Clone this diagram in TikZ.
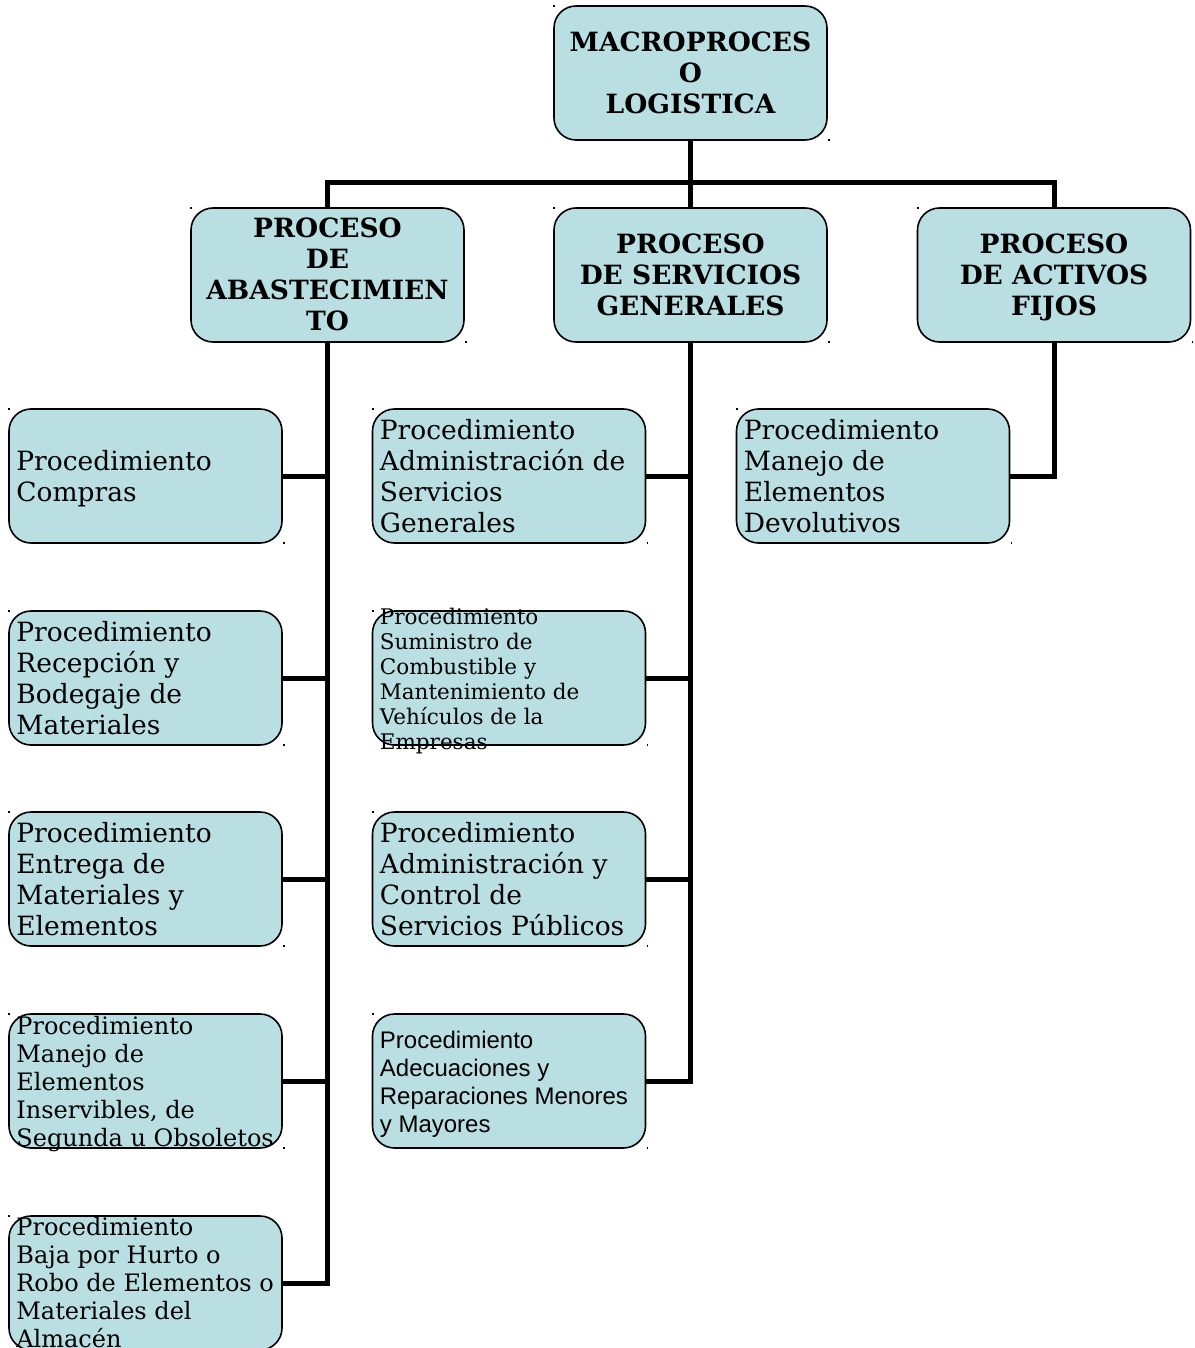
\documentclass[tikz,border=0pt]{standalone}
\usepackage{fontspec}
\usetikzlibrary{backgrounds}
\setmainfont{DejaVu Serif}
\newfontfamily\boxsans{Liberation Sans}
\definecolor{boxfill}{RGB}{185,223,227}
\begin{document}
\begin{tikzpicture}[x=1pt,y=-1pt,
  box/.style={draw=black, line width=1.6pt, fill=boxfill, rounded corners=22pt,
    minimum width=273pt, minimum height=134pt, inner sep=0pt},
  head/.style={align=center, font=\fontsize{26.5}{31}\selectfont\bfseries, inner sep=0pt},
  txt/.style={align=left, anchor=west, inner sep=0pt, font=\fontsize{26.5}{31}\selectfont},
  txtsmall/.style={txt, font=\fontsize{24}{28}\selectfont},
  txttiny/.style={txt, font=\fontsize{21.5}{25}\selectfont},
  txtsans/.style={txt, font=\boxsans\fontsize{24}{28}\selectfont},
  conn/.style={draw=black, line width=5pt},
  cornerdot/.style={fill=black, inner sep=0pt, minimum size=1.6pt, shape=rectangle}]
\useasboundingbox (0,0) rectangle (1194,1348);

% top level
\node[box] (top) at (690.5,73) {};
% second level
\node[box] (pa) at (327.5,275) {};
\node[box] (ps) at (690.5,275) {};
\node[box] (pf) at (1054,275) {};
% procedures
\node[box] (l1) at (145.5,476) {};
\node[box] (l2) at (145.5,678) {};
\node[box] (l3) at (145.5,879) {};
\node[box] (l4) at (145.5,1081) {};
\node[box] (l5) at (145.5,1283) {};
\node[box] (m1) at (509,476) {};
\node[box] (m2) at (509,678) {};
\node[box] (m3) at (509,879) {};
\node[box] (m4) at (509,1081) {};
\node[box] (r1) at (873,476) {};

% tree lines, behind the boxes
\begin{scope}[on background layer]
\fill[white] (0,0) rectangle (1194,1348);
\coordinate (j) at (690.5,183);
\draw[conn] (top.south) -- (j);
\draw[conn] (pa.north) |- (j) -| (pf.north);
\draw[conn] (j) -- (ps.north);
\draw[conn] (pa.south) |- (l5.east);
\foreach \n in {l1,l2,l3,l4} \draw[conn] (\n.east) -- (\n.east -| pa.south);
\draw[conn] (ps.south) |- (m4.east);
\foreach \n in {m1,m2,m3} \draw[conn] (\n.east) -- (\n.east -| ps.south);
\draw[conn] (pf.south) |- (r1.east);
\end{scope}

% small marks at the frame corners
\foreach \n in {top,pa,ps,pf,l1,l2,l3,l4,l5,m1,m2,m3,m4,r1}{
  \node[cornerdot] (\n-tl) at ([shift={(1pt,-1pt)}]\n.north west) {};
  \node[cornerdot] (\n-br) at ([shift={(1pt,1pt)}]\n.south east) {};
}

% labels (y grows downwards, so a negative shift lowers a text)
\node[head] (ttop) at (top.center) {MACROPROCES\\O\\LOGISTICA};
\node[head] (tpa) at ([yshift=1pt]pa.center) {PROCESO\\DE\\ABASTECIMIEN\\TO};
\node[head] (tps) at (ps.center) {PROCESO\\DE SERVICIOS\\GENERALES};
\node[head] (tpf) at ([yshift=-2pt]pf.center) {PROCESO\\DE ACTIVOS\\FIJOS};

\node[txt] (tl1) at ([shift={(8pt,-3pt)}]l1.west) {Procedimiento\\Compras};
\node[txt] (tl2) at ([xshift=8pt]l2.west) {Procedimiento\\Recepción y\\Bodegaje de\\Materiales};
\node[txt] (tl3) at ([xshift=8pt]l3.west) {Procedimiento\\Entrega de\\Materiales y\\Elementos};
\node[txtsmall] (tl4) at ([shift={(8pt,-3pt)}]l4.west) {Procedimiento\\Manejo de\\Elementos\\Inservibles, de\\Segunda u Obsoletos};
\node[txtsmall] (tl5) at ([xshift=8pt]l5.west) {Procedimiento\\Baja por Hurto o\\Robo de Elementos o\\Materiales del\\Almacén};

\node[txt] (tm1) at ([xshift=8pt]m1.west) {Procedimiento\\Administración de\\Servicios\\Generales};
\node[txttiny] (tm2) at ([shift={(8pt,-3pt)}]m2.west) {Procedimiento\\Suministro de\\Combustible y\\Mantenimiento de\\Vehículos de la\\Empresas};
\node[txt] (tm3) at ([xshift=8pt]m3.west) {Procedimiento\\Administración y\\Control de\\Servicios Públicos};
\node[txtsans] (tm4) at ([shift={(8pt,-3.5pt)}]m4.west) {Procedimiento\\Adecuaciones y\\Reparaciones Menores\\y Mayores};

\node[txt] (tr1) at ([xshift=8pt]r1.west) {Procedimiento\\Manejo de\\Elementos\\Devolutivos};
\end{tikzpicture}
\end{document}
